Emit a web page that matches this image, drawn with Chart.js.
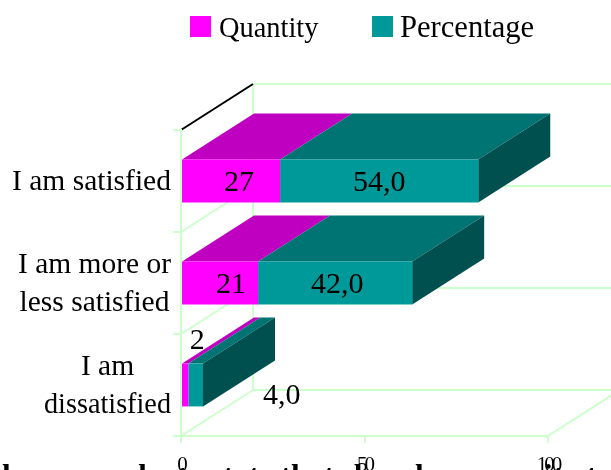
<!DOCTYPE html>
<html><head><meta charset="utf-8">
<style>html,body{margin:0;padding:0;background:#fff}canvas{display:block}</style>
<script src="https://cdn.jsdelivr.net/npm/chart.js@4"></script>
</head><body><canvas id="c" width="611" height="470"></canvas>
<script>
const categories = [["I am satisfied"], ["I am more or", "less satisfied"], ["I am", "dissatisfied"]];
const quantity = [27, 21, 2];
const percentage = [54, 42, 4];
const seriesNames = ["Quantity", "Percentage"];
const xTicks = [0, 50, 100];
const clippedCaption = "here were be to state that she who serves it at";

const SERIF = '"Liberation Serif","Times New Roman",serif';
const GRID = '#ccffcc';
const DX = 72, DY = -46;
const frontColors = ['#ff00ff', '#009999'];
const topColors = ['#c000c0', '#007373'];
const sideColor = '#005050';
const valueFormat = [v => String(v), v => v.toFixed(1).replace('.', ',')];
const labelNudge = [
  [[8, 0], [0, 0]],
  [[11, 0], [2, 0]],
  [[12, -46], [86, 9]]
];
const blockWidth = [159, 153, 127];

function line(ctx, x1, y1, x2, y2, color, w) {
  ctx.strokeStyle = color; ctx.lineWidth = w;
  ctx.beginPath(); ctx.moveTo(x1, y1); ctx.lineTo(x2, y2); ctx.stroke();
}
function poly(ctx, pts, color) {
  ctx.fillStyle = color; ctx.beginPath();
  pts.forEach((p, i) => i ? ctx.lineTo(p[0], p[1]) : ctx.moveTo(p[0], p[1]));
  ctx.closePath(); ctx.fill();
}

const depth3d = {
  id: 'depth3d',
  beforeDraw(chart) {
    const ctx = chart.ctx, a = chart.chartArea, ys = chart.scales.y;
    ctx.save();
    ctx.fillStyle = '#000'; ctx.font = 'bold 31px ' + SERIF;
    ctx.textAlign = 'left'; ctx.textBaseline = 'alphabetic';
    ctx.fillText(clippedCaption, 2, 486);
    line(ctx, a.left + DX, a.top + DY, a.left + DX, a.bottom + DY, GRID, 2);
    const band = ys.getPixelForValue(1) - ys.getPixelForValue(0);
    const bounds = categories.map((_, i) => ys.getPixelForValue(i) - band / 2);
    bounds.concat([a.bottom]).forEach((y, i) => {
      line(ctx, a.left + DX, y + DY, a.right + DX, y + DY, GRID, 2);
      if (i > 0) line(ctx, a.left, y, a.left + DX, y + DY, GRID, 2);
    });
    line(ctx, a.right, a.bottom, a.right + DX, a.bottom + DY, GRID, 2);
    line(ctx, a.left, a.top, a.left + DX, a.top + DY, '#000', 2);
    ctx.restore();
    ctx.letterSpacing = '-3px';
  },
  beforeDatasetsDraw(chart) {
    const ctx = chart.ctx;
    ctx.letterSpacing = '0px';
    const n = chart.data.labels.length;
    for (let j = 0; j < n; j++) {
      chart.data.datasets.forEach((ds, i) => {
        const b = chart.getDatasetMeta(i).data[j];
        const y0 = b.y - b.height / 2, y1 = b.y + b.height / 2;
        poly(ctx, [[b.base, y0], [b.x, y0], [b.x + DX, y0 + DY], [b.base + DX, y0 + DY]], topColors[i]);
        if (i === chart.data.datasets.length - 1)
          poly(ctx, [[b.x, y0], [b.x + DX, y0 + DY], [b.x + DX, y1 + DY], [b.x, y1]], sideColor);
      });
    }
  },
  afterDraw(chart) {
    const ctx = chart.ctx, ys = chart.scales.y;
    ctx.save();
    ctx.fillStyle = '#000'; ctx.font = '29.5px ' + SERIF;
    ctx.textBaseline = 'middle'; ctx.textAlign = 'center';
    categories.forEach((lines, i) => {
      const cx = 171 - blockWidth[i] / 2, cy = ys.getPixelForValue(i), lh = 38;
      lines.forEach((t, k) => ctx.fillText(t, cx, cy + (k - (lines.length - 1) / 2) * lh + 1, blockWidth[i]));
    });
    ctx.font = '30px ' + SERIF;
    chart.data.datasets.forEach((ds, i) => {
      chart.getDatasetMeta(i).data.forEach((b, j) => {
        const c = b.base + (b.x - b.base) / 2;
        const [nx, ny] = labelNudge[j][i];
        ctx.fillText(valueFormat[i](ds.data[j]), c + nx, b.y + 2 + ny);
      });
    });
    const sw = [190, 372], tx = [219, 400], fs = [28.4, 30.6];
    ctx.textAlign = 'left'; ctx.textBaseline = 'alphabetic';
    seriesNames.forEach((name, i) => {
      ctx.font = fs[i] + 'px ' + SERIF;
      ctx.fillStyle = frontColors[i]; ctx.fillRect(sw[i], 16, 21, 21);
      ctx.fillStyle = '#000'; ctx.fillText(name, tx[i], 37);
    });
    ctx.restore();
  }
};

new Chart(document.getElementById('c'), {
  type: 'bar',
  data: {
    labels: categories,
    datasets: [
      { label: seriesNames[0], data: quantity, backgroundColor: frontColors[0], borderWidth: 0 },
      { label: seriesNames[1], data: percentage, backgroundColor: frontColors[1], borderWidth: 0 }
    ]
  },
  plugins: [depth3d],
  options: {
    indexAxis: 'y',
    responsive: false,
    animation: false,
    layout: { padding: { top: 130, right: 63, left: 0, bottom: 0 } },
    plugins: { legend: { display: false }, tooltip: { enabled: false } },
    datasets: { bar: { barPercentage: 0.42, categoryPercentage: 1 } },
    scales: {
      x: {
        type: 'linear', stacked: true, min: 0, max: 100,
        afterBuildTicks: s => { s.ticks = xTicks.map(v => ({ value: v })); },
        afterFit: s => { s.height = 34; },
        grid: { color: GRID, lineWidth: 2, tickLength: 7, drawOnChartArea: false },
        border: { color: GRID, width: 2 },
        ticks: { color: '#000', font: { family: SERIF, size: 21 }, padding: 10, maxRotation: 0, autoSkip: false }
      },
      y: {
        type: 'category', stacked: true,
        afterFit: s => { s.width = 181; },
        grid: { color: GRID, lineWidth: 2, tickLength: 8, drawOnChartArea: false, offset: true },
        border: { color: GRID, width: 2 },
        ticks: { display: false }
      }
    }
  }
});
</script></body></html>
